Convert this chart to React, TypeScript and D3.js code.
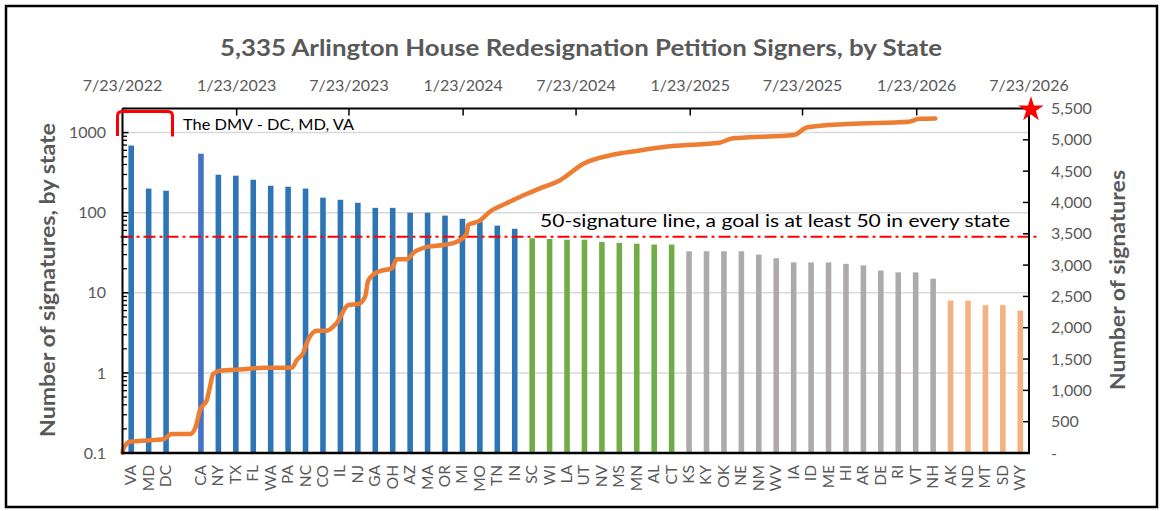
import * as d3 from 'd3';

// Chart frame
const WIDTH = 1163;
const HEIGHT = 511;
const PLOT = { left: 122.5, right: 1029, top: 108.5, bottom: 453 };

// Bar data, grouped by colour band
const dmvStates = ['VA', 'MD', 'DC'];
const dmvValues = [690, 200, 188];

const over50States = ['CA', 'NY', 'TX', 'FL', 'WA', 'PA', 'NC', 'CO', 'IL', 'NJ', 'GA', 'OH', 'AZ', 'MA', 'OR', 'MI', 'MO', 'TN', 'IN'];
const over50Values = [546, 298, 290, 258, 217, 211, 200, 154, 145, 133, 115, 115, 100, 100, 92, 84, 77, 69, 63];

const near50States = ['SC', 'WI', 'LA', 'UT', 'NV', 'MS', 'MN', 'AL', 'CT'];
const near50Values = [48, 47, 46, 46, 43, 42, 41, 40, 40];

const midStates = ['KS', 'KY', 'OK', 'NE', 'NM', 'WV', 'IA', 'ID', 'ME', 'HI', 'AR', 'DE', 'RI', 'VT', 'NH'];
const midValues = [33, 33, 33, 33, 30, 27, 24, 24, 24, 23, 22, 19, 18, 18, 15];

const lowStates = ['AK', 'ND', 'MT', 'SD', 'WY'];
const lowValues = [8, 8, 7, 7, 6];

// Cumulative signers over time (top date axis, right value axis)
const signDates = [
  '2022-07-23', '2022-07-24', '2022-08-04', '2022-08-25', '2022-09-27', '2022-10-10', '2022-11-09',
  '2022-11-18', '2022-11-25', '2022-12-06', '2022-12-11', '2022-12-16', '2022-12-27', '2023-02-03',
  '2023-03-07', '2023-04-22', '2023-04-30', '2023-05-10', '2023-05-18', '2023-06-01', '2023-06-17',
  '2023-07-03', '2023-07-22', '2023-08-07', '2023-08-18', '2023-08-23', '2023-09-08', '2023-09-30',
  '2023-10-08', '2023-10-24', '2023-11-04', '2023-11-28', '2023-12-22', '2024-01-13', '2024-01-29',
  '2024-01-31', '2024-02-19', '2024-03-06', '2024-04-02', '2024-04-24', '2024-05-26', '2024-06-28',
  '2024-08-03', '2024-09-18', '2024-10-31', '2024-12-25', '2025-03-11', '2025-04-02', '2025-07-09',
  '2025-07-31', '2025-10-04', '2026-01-10', '2026-01-27', '2026-02-22',
];
const signTotals = [
  5, 60, 180, 197, 219, 303, 303,
  420, 687, 846, 1059, 1261, 1314, 1336,
  1362, 1362, 1485, 1592, 1804, 1953, 1953,
  2071, 2363, 2379, 2495, 2751, 2894, 2949,
  3092, 3092, 3198, 3294, 3321, 3373, 3508,
  3640, 3709, 3852, 3986, 4092, 4226, 4359,
  4614, 4758, 4827, 4901, 4954, 5024, 5077,
  5200, 5253, 5289, 5335, 5340,
];

const topTickLabels = ['7/23/2022', '1/23/2023', '7/23/2023', '1/23/2024', '7/23/2024', '1/23/2025', '7/23/2025', '1/23/2026', '7/23/2026'];
const leftTickValues = [0.1, 1, 10, 100, 1000];
const leftTickLabels = ['0.1', '1', '10', '100', '1000'];

const GOAL = 50;

const TITLE = '5,335 Arlington House Redesignation Petition Signers, by State';
const GOAL_NOTE = '50-signature line, a goal is at least 50 in every state';
const DMV_NOTE = 'The DMV - DC, MD, VA';

const FONT = "Lato, 'Open Sans', 'Liberation Sans', sans-serif";
const GREY_TEXT = '#595959';

const COLORS = {
  dmv: '#2E75B6',
  over50: '#2E75B6',
  ca: '#4472C4',
  near50: '#70AD47',
  mid: '#AEAAAA',
  low: '#F4B183',
  line: '#ED7D31',
  red: '#FF0000',
};

type Bar = { state: string; value: number | null; color: string };

const bars: Bar[] = [
  ...dmvStates.map((s, i) => ({ state: s, value: dmvValues[i], color: COLORS.dmv })),
  { state: '', value: null, color: 'none' }, // empty slot between DMV and the rest
  ...over50States.map((s, i) => ({ state: s, value: over50Values[i], color: s === 'CA' ? COLORS.ca : COLORS.over50 })),
  ...near50States.map((s, i) => ({ state: s, value: near50Values[i], color: COLORS.near50 })),
  ...midStates.map((s, i) => ({ state: s, value: midValues[i], color: COLORS.mid })),
  ...lowStates.map((s, i) => ({ state: s, value: lowValues[i], color: COLORS.low })),
];

export default function App() {
  const parseTop = d3.timeParse('%m/%d/%Y');
  const parseDay = d3.timeParse('%Y-%m-%d');
  const topDates = topTickLabels.map((t) => parseTop(t) as Date);

  const xBand = d3
    .scaleBand<string>()
    .domain(bars.map((b, i) => b.state || `blank-${i}`))
    .range([PLOT.left, PLOT.right])
    .paddingInner(0.68)
    .paddingOuter(0.34);

  const yLog = d3.scaleLog().domain([0.1, 2000]).range([PLOT.bottom, PLOT.top]);
  const yRight = d3.scaleLinear().domain([0, 5500]).range([PLOT.bottom, PLOT.top]);
  const xTime = d3
    .scaleTime()
    .domain([topDates[0], topDates[topDates.length - 1]])
    .range([PLOT.left, PLOT.right]);

  const linePoints = signDates.map((d, i) => ({ date: parseDay(d) as Date, total: signTotals[i] }));
  const linePath = d3
    .line<{ date: Date; total: number }>()
    .x((d) => xTime(d.date))
    .y((d) => yRight(d.total))
    .curve(d3.curveMonotoneX)(linePoints);

  const minorTicks = yLog.ticks().filter((t) => !leftTickValues.includes(t));
  const rightTicks = d3.range(0, 5501, 500);
  const fmt = d3.format(',');

  const star = d3.symbol().type(d3.symbolStar).size(200)();

  const goalY = yLog(GOAL);
  const bw = xBand.bandwidth();

  return (
    <svg
      width={WIDTH}
      height={HEIGHT}
      style={{ position: 'fixed', left: 0, top: 0, background: '#fff' }}
      fontFamily={FONT}
    >
      <rect x={6} y={6} width={1151} height={501} fill="#fff" stroke="#000" strokeWidth={2.5} />

      <text x={581} y={56} textAnchor="middle" fontSize={23} fontWeight="bold" fill={GREY_TEXT} textLength={722} lengthAdjust="spacingAndGlyphs">
        {TITLE}
      </text>

      {/* gridlines at each decade of the log axis */}
      {leftTickValues.slice(1).map((v) => (
        <line key={`g${v}`} x1={PLOT.left} x2={PLOT.right} y1={yLog(v)} y2={yLog(v)} stroke="#D9D9D9" strokeWidth={1.5} />
      ))}

      {/* bars */}
      {bars.map((b, i) =>
        b.value == null ? null : (
          <rect
            key={`b${i}`}
            x={xBand(b.state) as number}
            width={bw}
            y={yLog(b.value)}
            height={PLOT.bottom - yLog(b.value)}
            fill={b.color}
          />
        ),
      )}

      {/* 50-signature goal line */}
      <line x1={PLOT.left - 2} x2={1040} y1={goalY} y2={goalY} stroke={COLORS.red} strokeWidth={2} strokeDasharray="12,4,3,4" />
      <text x={540} y={227} fontSize={18} fill="#000" textLength={470} lengthAdjust="spacingAndGlyphs">
        {GOAL_NOTE}
      </text>

      {/* cumulative line */}
      <path d={linePath ?? ''} fill="none" stroke={COLORS.line} strokeWidth={4.5} strokeLinecap="round" strokeLinejoin="round" />

      {/* axes lines */}
      <line x1={PLOT.left} x2={PLOT.left} y1={PLOT.top} y2={PLOT.bottom} stroke="#000" strokeWidth={2} />
      <line x1={PLOT.right} x2={PLOT.right} y1={PLOT.top} y2={PLOT.bottom} stroke="#000" strokeWidth={2} />
      <line x1={PLOT.left} x2={PLOT.right} y1={PLOT.top} y2={PLOT.top} stroke="#000" strokeWidth={2} />
      <line x1={PLOT.left - 1} x2={PLOT.right + 1} y1={PLOT.bottom} y2={PLOT.bottom} stroke="#000" strokeWidth={2.5} />

      {/* left log axis ticks and labels */}
      {leftTickValues.map((v, i) => (
        <g key={`l${v}`}>
          <line x1={PLOT.left} x2={PLOT.left + 6} y1={yLog(v)} y2={yLog(v)} stroke="#000" strokeWidth={1.5} />
          <text x={106} y={yLog(v)} dy="0.35em" textAnchor="end" fontSize={16} fill={GREY_TEXT}>
            {leftTickLabels[i]}
          </text>
        </g>
      ))}
      {minorTicks.map((v) => (
        <line key={`m${v}`} x1={PLOT.left} x2={PLOT.left + 4.5} y1={yLog(v)} y2={yLog(v)} stroke="#000" strokeWidth={1.3} />
      ))}

      {/* right value axis */}
      {rightTicks.map((v) => (
        <g key={`r${v}`}>
          {v > 0 && v < 5500 && (
            <line x1={PLOT.right - 6} x2={PLOT.right} y1={yRight(v)} y2={yRight(v)} stroke="#000" strokeWidth={1.5} />
          )}
          <text x={1051} y={yRight(v)} dy="0.35em" fontSize={16} fill={GREY_TEXT}>
            {v === 0 ? '-' : fmt(v)}
          </text>
        </g>
      ))}

      {/* top date axis */}
      {topDates.map((d, i) => (
        <g key={`t${i}`}>
          {i > 0 && i < topDates.length - 1 && (
            <line x1={xTime(d)} x2={xTime(d)} y1={PLOT.top} y2={PLOT.top + 7} stroke="#000" strokeWidth={1.5} />
          )}
          <text x={xTime(d)} y={91} textAnchor="middle" fontSize={16} fill={GREY_TEXT}>
            {topTickLabels[i]}
          </text>
        </g>
      ))}

      {/* category labels */}
      {bars.map((b, i) => {
        if (!b.state) return null;
        const cx = (xBand(b.state) as number) + bw / 2;
        return (
          <text
            key={`c${i}`}
            transform={`translate(${cx + 5},${465}) rotate(-90)`}
            textAnchor="end"
            fontSize={15.5}
            fill={GREY_TEXT}
          >
            {b.state}
          </text>
        );
      })}

      {/* axis titles */}
      <text
        transform={`translate(55,280) rotate(-90)`}
        textAnchor="middle"
        fontSize={21}
        fontWeight="bold"
        fill={GREY_TEXT}
        textLength={314}
        lengthAdjust="spacingAndGlyphs"
      >
        Number of signatures, by state
      </text>
      <text
        transform={`translate(1125,280) rotate(-90)`}
        textAnchor="middle"
        fontSize={21}
        fontWeight="bold"
        fill={GREY_TEXT}
        textLength={220}
        lengthAdjust="spacingAndGlyphs"
      >
        Number of signatures
      </text>

      {/* DMV bracket and note */}
      <path
        d="M117.5,136 L117.5,116 Q117.5,111.5 122,111.5 L168,111.5 Q172.5,111.5 172.5,116 L172.5,136.5"
        fill="none"
        stroke={COLORS.red}
        strokeWidth={3}
      />
      <text x={183} y={130} fontSize={16} fill="#000" textLength={171} lengthAdjust="spacingAndGlyphs">
        {DMV_NOTE}
      </text>

      {/* goal marker star at 5,500 */}
      <path d={star ?? ''} transform={`translate(${PLOT.right + 2},${PLOT.top + 1})`} fill={COLORS.red} />
    </svg>
  );
}
